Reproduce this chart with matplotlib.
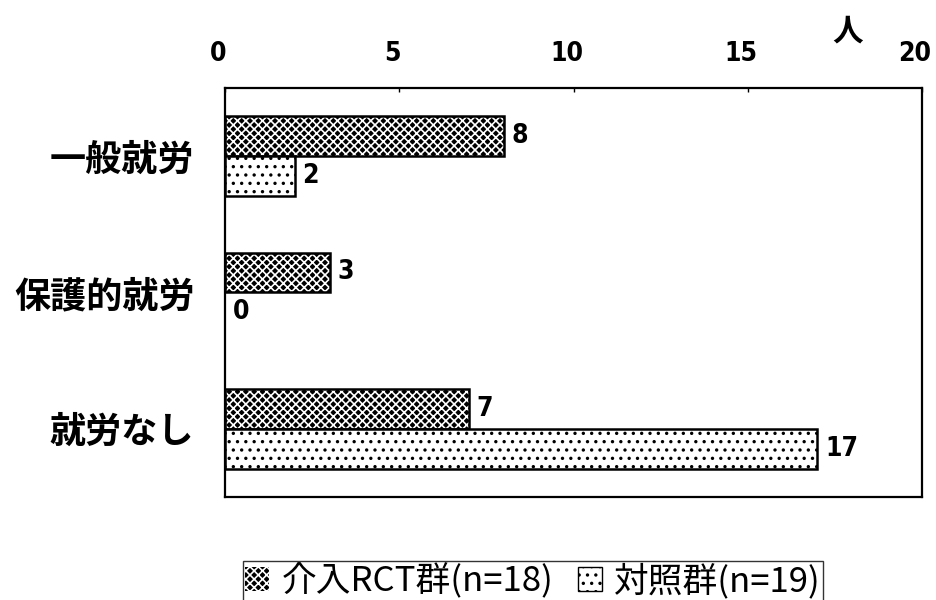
import numpy as np
import matplotlib
matplotlib.use("Agg")
from matplotlib import pyplot as plt
from matplotlib.patches import Patch
from matplotlib.transforms import ScaledTranslation

plt.rcParams['font.family'] = ['Noto Sans CJK JP', 'DejaVu Sans']
plt.rcParams['hatch.linewidth'] = 1.2

categories = ["一般就労", "保護的就労", "就労なし"]
intervention = [8, 3, 7]
control = [2, 0, 17]
series_labels = ["介入RCT群(n=18)", "対照群(n=19)"]
x_ticks = [0, 5, 10, 15, 20]
unit_label = "人"

fig = plt.figure(figsize=(9.36, 6.0), dpi=100)
ax = fig.add_axes([0.2404, 0.1717, 0.7447, 0.6817])

y = np.arange(len(categories))
h = 0.293

# dark bars: black fill with white cross hatch, then an outline on top
ax.barh(y - h / 2, intervention, height=h, color="black", edgecolor="white",
        hatch="xxxx", linewidth=0)
ax.barh(y - h / 2, intervention, height=h, fill=False, edgecolor="black",
        linewidth=1.8)
# light bars: white with sparse dots
ax.barh(y + h / 2, control, height=h, color="white", edgecolor="black",
        hatch="..", linewidth=0)
ax.barh(y + h / 2, [v if v > 0 else np.nan for v in control], height=h,
        fill=False, edgecolor="black", linewidth=1.8)

num_font = dict(fontsize=19, fontweight="bold", family="DejaVu Sans",
                fontstretch="condensed")
for yi, v in zip(y, intervention):
    ax.text(v + 0.22, yi - h / 2, str(v), va="center", ha="left", **num_font)
for yi, v in zip(y, control):
    ax.text(v + 0.22, yi + h / 2, str(v), va="center", ha="left", **num_font)

ax.set_xlim(0, 20)
ax.set_ylim(2.5, -0.5)
ax.xaxis.tick_top()
ax.set_xticks(x_ticks)
ax.set_xticklabels([str(t) for t in x_ticks], **num_font)
ax.tick_params(axis="x", direction="in", length=3, width=1, pad=15)
# axis numbers sit a little left of their ticks
shift = ScaledTranslation(-7 / 100, 0, fig.dpi_scale_trans)
for lbl in ax.get_xticklabels():
    lbl.set_transform(lbl.get_transform() + shift)
ax.set_yticks(y)
ax.set_yticklabels(categories, fontsize=26, fontweight="bold")
ax.tick_params(axis="y", length=0, pad=22)
for s in ax.spines.values():
    s.set_linewidth(1.6)

fig.text(848 / 936, 1 - 32 / 600, unit_label, ha="center", va="center",
         fontsize=22, fontweight="bold")

handles = [
    Patch(facecolor="black", edgecolor="white", hatch="xxxx", linewidth=0),
    Patch(facecolor="white", edgecolor="black", hatch="..", linewidth=1),
]
leg = fig.legend(handles, series_labels, loc="center",
                 bbox_to_anchor=(533 / 936, 1 - 581 / 600), ncol=2,
                 fontsize=25, frameon=True, fancybox=False, edgecolor="black",
                 handlelength=0.7, handleheight=0.7, handletextpad=0.35,
                 columnspacing=0.7, borderpad=0.05, borderaxespad=0)
leg.get_frame().set_linewidth(1.0)

fig.savefig("out.png", dpi=100)
